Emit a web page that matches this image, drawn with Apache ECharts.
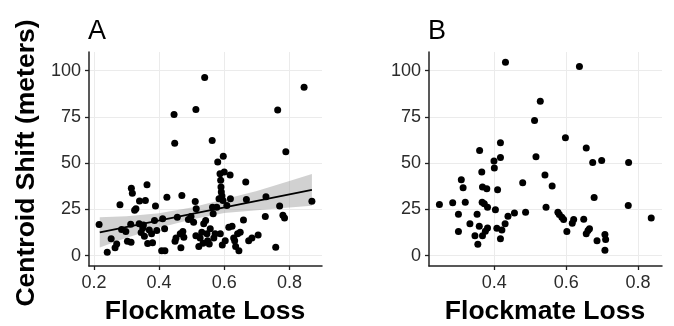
<!DOCTYPE html>
<html><head><meta charset="utf-8">
<script src="https://cdn.jsdelivr.net/npm/echarts@6/dist/echarts.min.js"></script>
<style>html,body{margin:0;padding:0;background:#fff}#c{width:674px;height:326px}</style>
</head><body><div id="c"></div>
<script>
// Panel A: flockmate loss vs centroid shift
const pointsA = [[0.216,16.8],[0.241,1.8],[0.253,9.2],[0.265,4.2],[0.27,6.3],[0.28,27.5],[0.285,14.2],[0.298,13],[0.303,7.8],[0.314,7.3],[0.315,36.5],[0.318,33.8],[0.313,17],[0.325,24.5],[0.329,25.3],[0.34,29.5],[0.339,17.2],[0.345,12.5],[0.35,15],[0.355,10.5],[0.352,16.5],[0.358,29.8],[0.363,38.3],[0.365,6.5],[0.37,13.9],[0.377,11.8],[0.38,7],[0.386,19],[0.389,26.8],[0.393,13.6],[0.411,19.9],[0.408,2.7],[0.418,2.7],[0.417,14.5],[0.424,31.6],[0.446,76.3],[0.448,60.8],[0.449,7.8],[0.452,9.6],[0.456,20.8],[0.465,11.8],[0.467,4.2],[0.47,32.5],[0.473,13],[0.476,9.9],[0.49,19.5],[0.498,21.2],[0.506,18.1],[0.511,29.3],[0.513,79],[0.514,25.3],[0.513,10.8],[0.522,4.9],[0.526,9.6],[0.531,12.7],[0.535,6.7],[0.54,96.3],[0.537,17.2],[0.543,19],[0.547,11.8],[0.549,8.1],[0.554,6.3],[0.557,14.5],[0.563,62.2],[0.564,26.2],[0.566,22.6],[0.568,9.6],[0.572,11.8],[0.577,26.2],[0.58,50.6],[0.584,30.7],[0.587,44.3],[0.589,40.7],[0.59,37.1],[0.591,34.4],[0.593,32.2],[0.597,53.7],[0.596,29.8],[0.588,11.8],[0.594,5.8],[0.6,45.2],[0.603,8.1],[0.608,27.1],[0.614,15.4],[0.618,43.6],[0.619,30.7],[0.624,15.9],[0.629,9.6],[0.632,8.1],[0.635,4.9],[0.641,11.8],[0.645,2.7],[0.649,12.7],[0.659,19.3],[0.666,39.8],[0.668,30.4],[0.675,8.1],[0.685,9.6],[0.704,11.2],[0.726,21.2],[0.728,31.8],[0.758,4.5],[0.764,78.8],[0.77,26.8],[0.78,21.8],[0.785,20.4],[0.789,56.2],[0.845,91],[0.869,29.4]];
// Panel A: fitted line and confidence band
const trendA = [[0.218,12.6],[0.869,35.6]];
const bandX = [0.218,0.3,0.4,0.5,0.6,0.7,0.8,0.869];
const bandLow = [4.4,9.7,15.1,19.5,23,24.6,26,27];
const bandHigh = [20.8,21.3,22.9,26,30.5,35,40.3,44.2];
// Panel B
const pointsB = [[0.247,27.7],[0.284,28.6],[0.308,41],[0.313,36.7],[0.3,22.4],[0.3,13],[0.319,28.8],[0.332,17.2],[0.346,10.7],[0.352,22.4],[0.354,6.1],[0.358,15.9],[0.359,56.8],[0.365,45.2],[0.367,37.1],[0.366,28.8],[0.367,10.7],[0.372,28],[0.379,36.2],[0.381,26.2],[0.375,13.2],[0.381,15],[0.399,51.2],[0.4,47.4],[0.403,24.8],[0.409,35.6],[0.417,61.1],[0.417,53],[0.407,14.8],[0.421,13.9],[0.417,9.2],[0.43,17.2],[0.431,104.5],[0.438,21.3],[0.456,23],[0.479,39.4],[0.487,23.5],[0.512,73.1],[0.528,83.5],[0.516,53.5],[0.541,43.6],[0.544,26.2],[0.561,37.6],[0.577,23.5],[0.581,22.2],[0.588,20.8],[0.593,19.5],[0.598,63.7],[0.602,13],[0.617,17.5],[0.621,19.5],[0.637,102.2],[0.649,19.7],[0.656,58.2],[0.656,11.8],[0.661,13.6],[0.665,14.5],[0.674,50.3],[0.678,31.5],[0.686,8.1],[0.699,51.5],[0.708,11.4],[0.71,8.7],[0.708,2.9],[0.773,27.1],[0.774,50.3],[0.837,20.4]];
const xTicksA = [0.2,0.4,0.6,0.8];
const xTicksB = [0.4,0.6,0.8];
const yTicks = [0,25,50,75,100];

const FONT = 'Liberation Sans, Arial, sans-serif';
const AX = '#222';
const chart = echarts.init(document.getElementById('c'), null, {renderer:'canvas'});

function xAxis(idx, min, max, ticks){
  return {type:'value', gridIndex:idx, min:min, max:max,
    axisLine:{show:true, onZero:false, lineStyle:{color:AX, width:1.5}},
    axisTick:{show:true, length:4, customValues:ticks, lineStyle:{color:AX, width:1.3}},
    axisLabel:{customValues:ticks, margin:8, fontSize:18, color:'#2b2b2b', fontFamily:FONT, formatter:v=>v.toFixed(1)},
    splitLine:{show:false}};
}
function yAxis(idx){
  return {type:'value', gridIndex:idx, min:-5.6, max:110.1,
    axisLine:{show:true, onZero:false, lineStyle:{color:AX, width:1.5}},
    axisTick:{show:true, length:4, customValues:yTicks, lineStyle:{color:AX, width:1.3}},
    axisLabel:{customValues:yTicks, margin:8, fontSize:18, color:'#2b2b2b', fontFamily:FONT},
    splitLine:{show:false}};
}
function grids(idx, xt){
  const data = yTicks.map(v=>({yAxis:v})).concat(xt.map(v=>({xAxis:v})));
  return {type:'line', xAxisIndex:idx, yAxisIndex:idx, data:[], silent:true, z:0,
    markLine:{silent:true, symbol:'none', z:0, label:{show:false}, animation:false,
      lineStyle:{color:'#ebebeb', width:1, type:'solid'}, data:data}};
}
const option = {
  animation:false,
  grid:[{left:89, top:52, width:233, height:214},{left:429, top:52, width:233, height:214}],
  xAxis:[xAxis(0,0.185,0.9,xTicksA), xAxis(1,0.218,0.867,xTicksB)],
  yAxis:[yAxis(0), yAxis(1)],
  series:[
    grids(0, xTicksA), grids(1, xTicksB),
    {type:'custom', xAxisIndex:0, yAxisIndex:0, z:2, silent:true,
      data:[[bandX[0], bandLow[0]]],
      renderItem:(params, api)=>{
        const pts = [];
        for (let i=0;i<bandX.length;i++) pts.push(api.coord([bandX[i], bandHigh[i]]));
        for (let i=bandX.length-1;i>=0;i--) pts.push(api.coord([bandX[i], bandLow[i]]));
        return {type:'polygon', shape:{points:pts}, style:{fill:'rgba(153,153,153,0.45)', stroke:null}};
      }},
    {type:'scatter', xAxisIndex:0, yAxisIndex:0, z:3, data:pointsA, symbolSize:7,
      itemStyle:{color:'#000', opacity:1}},
    {type:'line', xAxisIndex:0, yAxisIndex:0, z:4, data:trendA, symbol:'none',
      lineStyle:{color:'#000', width:1.8}},
    {type:'scatter', xAxisIndex:1, yAxisIndex:1, z:3, data:pointsB, symbolSize:7,
      itemStyle:{color:'#000', opacity:1}}
  ],
  graphic:[
    {type:'text', left:88, top:18, style:{text:'A', fontSize:27, fontFamily:FONT, fill:'#000'}},
    {type:'text', left:428, top:18, style:{text:'B', fontSize:27, fontFamily:FONT, fill:'#000'}},
    {type:'text', x:27, y:163, rotation:Math.PI/2,
      style:{text:'Centroid Shift (meters)', fontSize:26.5, fontWeight:'bold', fontFamily:FONT, fill:'#000', align:'center', verticalAlign:'middle'}},
    {type:'text', x:205, y:312,
      style:{text:'Flockmate Loss', fontSize:26.5, fontWeight:'bold', fontFamily:FONT, fill:'#000', align:'center', verticalAlign:'middle'}},
    {type:'text', x:545, y:312,
      style:{text:'Flockmate Loss', fontSize:26.5, fontWeight:'bold', fontFamily:FONT, fill:'#000', align:'center', verticalAlign:'middle'}}
  ]
};
chart.setOption(option);
</script></body></html>
